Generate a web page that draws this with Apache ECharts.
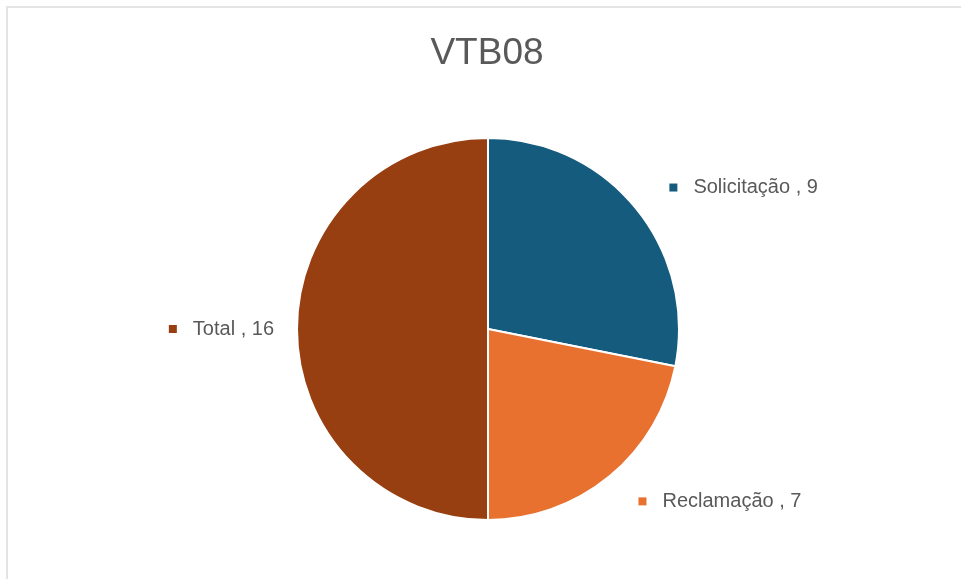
<!DOCTYPE html>
<html>
<head>
<meta charset="utf-8">
<script src="https://cdn.jsdelivr.net/npm/echarts@6/dist/echarts.min.js"></script>
<style>
  html, body { margin: 0; padding: 0; background: #fff; }
  #app { position: absolute; left: 6px; top: 6px; width: 960px; height: 578px;
         border-left: 2px solid #e4e4e4; border-top: 2px solid #e4e4e4; box-sizing: border-box; }
  #chart { width: 100%; height: 100%; }
</style>
</head>
<body>
<div id="app"><div id="chart"></div></div>
<script>
var titleText = 'VTB08';
var categories = ['Solicitação ', 'Reclamação ', 'Total '];
var values = [9, 7, 16];
var colors = ['#155b7e', '#e8712f', '#973f10'];

var font = '"Liberation Sans Narrow", "Liberation Sans", Arial, sans-serif';

var pieData = categories.map(function (name, i) {
    return {
        name: name,
        value: values[i],
        itemStyle: { color: colors[i] },
        label: { rich: { m: { width: 8, height: 8, backgroundColor: colors[i] } } },
        labelLine: { length: name.trim() == 'Total' ? 14 : 32 }
    };
});

var chart = echarts.init(document.getElementById('chart'));
chart.setOption({
    animation: false,
    title: {
        text: titleText,
        left: 'center',
        top: 22,
        textStyle: { fontFamily: font, fontSize: 37, fontWeight: 'normal', color: '#595959' }
    },
    series: [{
        type: 'pie',
        center: [480, 321],
        radius: 191,
        startAngle: 90,
        clockwise: true,
        data: pieData,
        itemStyle: { borderColor: '#fff', borderWidth: 2 },
        label: {
            show: true,
            position: 'outside',
            formatter: '{m|}{g|}{t|{b}, {c}}',
            rich: {
                g: { width: 16 },
                t: { fontFamily: font, fontSize: 20, color: '#595959' }
            }
        },
        labelLine: { show: false, length: 32, length2: 4 }
    }]
});
</script>
</body>
</html>
